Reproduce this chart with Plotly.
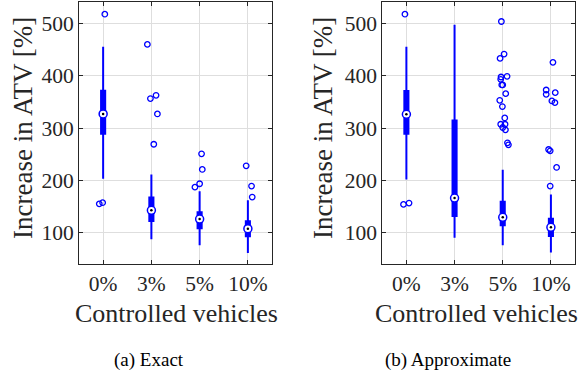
import plotly.graph_objects as go

categories = ["0%", "3%", "5%", "10%"]
cat_pos = [1, 2, 3, 4]

# (a) Exact
a_q1 = [289, 122.3, 108.3, 93]
a_med = [327, 142.6, 126, 107.6]
a_q3 = [371.5, 167, 139, 121.6]
a_lo = [203, 87.3, 76, 61.2]
a_hi = [455.5, 211.3, 179, 161.7]
a_out_cat = [1, 1, 1, 2, 2, 2, 2, 2, 3, 3, 3, 3, 4, 4, 4]
a_out_val = [517.8, 155, 157.2, 460, 356.3, 362.6, 327, 269, 250.7, 220.8, 187, 193.5, 227.8, 189, 168]
a_out_jit = [0.035, -0.08, -0.01, -0.083, -0.02, 0.097, 0.125, 0.05, 0.04, 0.055, -0.097, 0.0, -0.035, 0.076, 0.09]

# (b) Approximate
b_q1 = [289, 131.8, 114, 93.6]
b_med = [326.4, 166.1, 129.3, 110.2]
b_q3 = [371, 314.3, 159, 126.7]
b_lo = [201.8, 90, 75.8, 61.8]
b_hi = [455.5, 497.5, 220.2, 173.1]
b_out_cat = [1, 1, 1] + [3] * 18 + [4] * 10
b_out_val = [517.8, 154, 156.6,
             503.8, 433.2, 441.5, 397.6, 393.2, 382.4, 382.4, 398.9, 365.8, 353.1,
             341, 319.4, 307.3, 307.3, 301, 296.5, 271.7, 267.9,
             425.6, 372.8, 364.5, 367.7, 351.8, 348.6, 259, 256.5, 224.7, 189.1]
b_out_jit = [-0.03, -0.06, 0.055,
             -0.028, -0.055, 0.028, -0.035, -0.042, -0.02, 0.0, 0.09, 0.062, -0.062,
             -0.007, 0.042, -0.042, 0.048, 0.0, 0.056, 0.098, 0.118,
             0.042, -0.098, -0.098, 0.09, 0.02, 0.083, -0.048, -0.015, 0.118, -0.015]

y_ticks = [100, 200, 300, 400, 500]
y_range = [40, 542]

BLUE = "#0000ff"
FONT = "Liberation Serif"
fig = go.Figure()

panels = [
    ("x", "y", a_q1, a_med, a_q3, a_lo, a_hi, a_out_cat, a_out_val, a_out_jit),
    ("x2", "y2", b_q1, b_med, b_q3, b_lo, b_hi, b_out_cat, b_out_val, b_out_jit),
]
for xa, ya, q1, med, q3, lo, hi, oc, ov, oj in panels:
    fig.add_trace(go.Box(
        x=cat_pos, q1=q1, median=med, q3=q3, lowerfence=lo, upperfence=hi,
        width=0.085, whiskerwidth=0, fillcolor=BLUE,
        line=dict(color=BLUE, width=2), boxpoints=False,
        xaxis=xa, yaxis=ya, showlegend=False, hoverinfo="skip"))
    fig.add_trace(go.Scatter(
        x=[c + j for c, j in zip(oc, oj)], y=ov, mode="markers",
        marker=dict(symbol="circle-open", size=5.5, color=BLUE, line=dict(width=1.3)),
        xaxis=xa, yaxis=ya, showlegend=False, hoverinfo="skip"))
    fig.add_trace(go.Scatter(
        x=cat_pos, y=med, mode="markers",
        marker=dict(symbol="circle", size=8, color="white", line=dict(color=BLUE, width=1.5)),
        xaxis=xa, yaxis=ya, showlegend=False, hoverinfo="skip"))
    fig.add_trace(go.Scatter(
        x=cat_pos, y=med, mode="markers",
        marker=dict(symbol="circle", size=2.5, color="black"),
        xaxis=xa, yaxis=ya, showlegend=False, hoverinfo="skip"))

W, H = 580, 373
ybot = 1 - 264 / H
ytop = 1 - 1.5 / H
axis_common = dict(showline=True, linecolor="#262626", linewidth=1, mirror="ticks",
                   ticks="inside", ticklen=4, tickcolor="#262626",
                   showgrid=True, gridcolor="#dedede", gridwidth=1, zeroline=False,
                   tickfont=dict(family=FONT, size=21.5, color="#262626"))
xaxis_common = dict(axis_common, range=[0.5, 4.5], tickmode="array",
                    tickvals=cat_pos, ticktext=categories)
yaxis_common = dict(axis_common, range=y_range, tickmode="array", tickvals=y_ticks)

fig.update_layout(
    width=W, height=H, margin=dict(l=0, r=0, t=0, b=0),
    paper_bgcolor="white", plot_bgcolor="white",
    font=dict(family=FONT),
    xaxis=dict(xaxis_common, domain=[79 / W, 272 / W], anchor="y"),
    yaxis=dict(yaxis_common, domain=[ybot, ytop], anchor="x"),
    xaxis2=dict(xaxis_common, domain=[382.3 / W, 575 / W], anchor="y2"),
    yaxis2=dict(yaxis_common, domain=[ybot, ytop], anchor="x2"),
)

def ann(text, x, y, size, angle=0, color="#262626"):
    fig.add_annotation(text=text, x=x / W, y=1 - y / H, xref="paper", yref="paper",
                       showarrow=False, textangle=angle,
                       font=dict(family=FONT, size=size, color=color),
                       xanchor="center", yanchor="middle")

ann("Controlled vehicles", 176.5, 313, 26)
ann("Controlled vehicles", 476.5, 313, 26)
ann("Increase in ATV [%]", 23, 128, 27, angle=-90)
ann("Increase in ATV [%]", 323, 128, 27, angle=-90)
ann("(a) Exact", 149, 360, 19, color="black")
ann("(b) Approximate", 448, 360, 19, color="black")

fig.write_html("out.html", post_script="document.body.style.margin='0';",
               config={"displayModeBar": False})
